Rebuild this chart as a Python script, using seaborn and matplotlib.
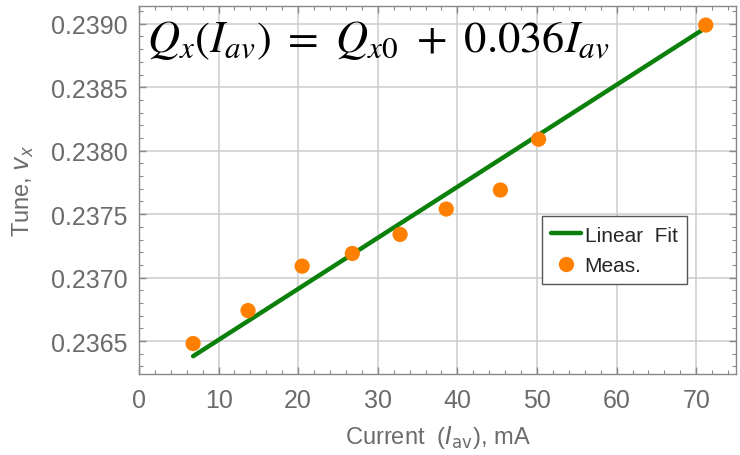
import numpy as np
import pandas as pd
import seaborn as sns
import matplotlib.pyplot as plt
from matplotlib.ticker import MultipleLocator, FormatStrFormatter
from matplotlib.lines import Line2D

# measured tune vs average current
current_ma = [6.8, 13.7, 20.5, 26.8, 32.8, 38.6, 45.4, 50.2, 71.2]
tune_x = [0.23648, 0.23674, 0.23709, 0.23719, 0.23734, 0.23754, 0.23769, 0.23809, 0.23899]

# linear fit parameters
fit_intercept = 0.236107
fit_slope = 4.02e-5

x_ticks = [0, 10, 20, 30, 40, 50, 60, 70]
y_ticks = [0.2365, 0.2370, 0.2375, 0.2380, 0.2385, 0.2390]

GRAY = '#6b6b6b'
ORANGE = '#ff7f00'
GREEN = '#0b800b'

sns.set_theme(style="ticks")
plt.rcParams['font.family'] = ['Liberation Sans', 'DejaVu Sans']

meas = pd.DataFrame({'current': current_ma, 'tune': tune_x})
fit_x = np.array([min(current_ma), max(current_ma)])
fit = pd.DataFrame({'current': fit_x, 'tune': fit_intercept + fit_slope * fit_x})

fig = plt.figure(figsize=(7.4, 4.56), dpi=100)
ax = fig.add_axes([0.1878, 0.1776, 0.8068, 0.807])

ax.grid(True, which='major', color='#cccccc', linewidth=1.1)
ax.set_axisbelow(True)

sns.lineplot(data=fit, x='current', y='tune', ax=ax, color=GREEN, linewidth=3.2, zorder=3)
sns.scatterplot(data=meas, x='current', y='tune', ax=ax, color=ORANGE, s=120,
                edgecolor='none', zorder=4)

ax.set_xlim(0, 75)
ax.set_ylim(0.23624, 0.23914)
ax.set_xticks(x_ticks)
ax.set_yticks(y_ticks)
ax.xaxis.set_minor_locator(MultipleLocator(2))
ax.yaxis.set_minor_locator(MultipleLocator(0.0001))
ax.yaxis.set_major_formatter(FormatStrFormatter('%.4f'))

ax.tick_params(which='both', direction='in', top=True, right=True, color='#888888')
ax.tick_params(which='major', length=5, width=1, labelsize=18, labelcolor=GRAY)
ax.tick_params(which='minor', length=3, width=0.8)
ax.tick_params(axis='x', which='major', pad=10)
ax.tick_params(axis='y', which='major', pad=8)

for sp in ax.spines.values():
    sp.set_color('#888888')
    sp.set_linewidth(1)

ax.set_xlabel(r'Current  ($I_{\rm av}$), mA', fontsize=17, color=GRAY, labelpad=8,
              math_fontfamily='dejavusans')
ax.set_ylabel(r'Tune, $v_x$', fontsize=17, color=GRAY, labelpad=11,
              math_fontfamily='dejavusans')

fig.text(147 / 740, 1 - 52 / 456, r'$Q_x(I_{av})\ =\ Q_{x0}\ +\ 0.036I_{av}$',
         fontsize=32, color='black', ha='left', va='baseline', math_fontfamily='stix')

handles = [Line2D([], [], color=GREEN, linewidth=3.2),
           Line2D([], [], color=ORANGE, marker='o', linestyle='none', markersize=11,
                  markeredgewidth=0)]
leg = ax.legend(handles, ['Linear  Fit', 'Meas.'], loc='upper left',
                bbox_to_anchor=(0.675, 0.429), borderaxespad=0, fontsize=15,
                frameon=True, fancybox=False, handlelength=1.4, handletextpad=0.2,
                borderpad=0.45, labelspacing=0.55)
leg.get_frame().set_edgecolor('#555555')
leg.get_frame().set_linewidth(1)
leg.get_frame().set_alpha(1)

fig.savefig('out.png', dpi=100)
